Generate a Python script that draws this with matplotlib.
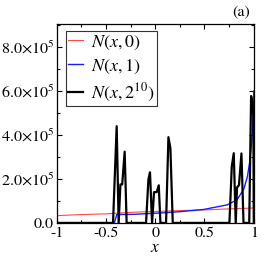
import matplotlib
matplotlib.use("Agg")
import matplotlib.pyplot as plt
from matplotlib.ticker import MultipleLocator, FuncFormatter

plt.rcParams['font.family'] = ['STIXGeneral', 'DejaVu Serif']
plt.rcParams['mathtext.fontset'] = 'stix'

# N(x,0)
x0 = [-1.0, -0.8, -0.6, -0.5, -0.4, -0.2, 0.0, 0.25, 0.5, 0.75, 0.9, 1.0]
y0 = [3.3e4, 3.7e4, 4.0e4, 4.1e4, 4.4e4, 4.9e4, 5.2e4, 5.6e4, 5.9e4, 6.4e4, 6.6e4, 6.8e4]

# N(x,1)
x1 = [-1.0, -0.415, -0.39, -0.22, 0.0, 0.12, 0.25, 0.49, 0.73, 0.83, 0.9, 0.935, 0.96, 0.975, 0.988, 1.0]
y1 = [0.0, 0.0, 3.8e4, 3.9e4, 4.4e4, 4.7e4, 5.1e4, 6.1e4, 8.2e4, 1.05e5, 1.55e5, 2.1e5, 2.8e5, 3.5e5, 4.3e5, 6.0e5]

# N(x,2^10)
x2 = [-1.0, -0.428, -0.391, -0.371, -0.353, -0.335, -0.31, -0.29,
      -0.093, -0.069, -0.053, -0.032, -0.012, 0.015, 0.036, 0.053,
      0.11, 0.134, 0.154, 0.178,
      0.753, 0.777, 0.797, 0.817, 0.830, 0.850, 0.875, 0.896,
      0.954, 0.973, 0.987, 0.996, 1.0]
y2 = [0.0, 0.0, 4.4e5, 0.0, 1.75e5, 1.75e5, 3.24e5, 0.0,
      0.0, 1.97e5, 2.3e5, 0.0, 1.4e5, 1.4e5, 1.71e5, 0.0,
      0.0, 3.9e5, 3.4e5, 0.0,
      0.0, 2.57e5, 3.17e5, 0.0, 1.61e5, 1.72e5, 3.16e5, 0.0,
      0.0, 5.77e5, 5.5e5, 4.8e5, 0.0]

fig = plt.figure(figsize=(2.66, 2.66), dpi=100)
ax = fig.add_axes([0.213, 0.162, 0.741, 0.748])

ax.plot(x0, y0, color='#ff4a4a', lw=0.8, label=r'$N(x,0)$')
ax.plot(x1, y1, color='#1a1aff', lw=1.0, label=r'$N(x,1)$')
ax.plot(x2, y2, color='black', lw=1.6, label=r'$N(x,2^{10})$')

ax.set_xlim(-1, 1)
ax.set_ylim(0, 9.05e5)
ax.xaxis.set_major_locator(MultipleLocator(0.5))
ax.xaxis.set_minor_locator(MultipleLocator(0.25))
ax.yaxis.set_major_locator(MultipleLocator(2e5))
ax.yaxis.set_minor_locator(MultipleLocator(1e5))

def xfmt(v, pos):
    if abs(v) < 1e-9:
        return '0'
    if abs(v - round(v)) < 1e-9:
        return '%d' % round(v)
    return '%g' % v

def yfmt(v, pos):
    if abs(v) < 1e-3:
        return '0.0'
    return r'$%.1f{\times}10^{5}$' % (v / 1e5)

ax.xaxis.set_major_formatter(FuncFormatter(xfmt))
ax.yaxis.set_major_formatter(FuncFormatter(yfmt))
ax.tick_params(which='both', direction='in', top=True, right=True, labelsize=11.5, pad=2)
ax.tick_params(axis='x', pad=3)
ax.tick_params(which='major', length=3.6, width=0.8)
ax.tick_params(which='minor', length=2.0, width=0.8)
for s in ax.spines.values():
    s.set_linewidth(0.9)

ax.set_xlabel(r'$x$', fontsize=12.5, labelpad=0)

leg = ax.legend(loc='upper left', bbox_to_anchor=(0.045, 0.965), fontsize=13,
                frameon=True, fancybox=False, edgecolor='#333333', framealpha=1,
                handlelength=0.8, handletextpad=0.45, borderpad=0.15,
                labelspacing=0.32, borderaxespad=0)
leg.get_frame().set_linewidth(0.8)

fig.text(0.905, 0.955, '(a)', fontsize=11.5, ha='center', va='center')

fig.savefig('out.png', dpi=100)
